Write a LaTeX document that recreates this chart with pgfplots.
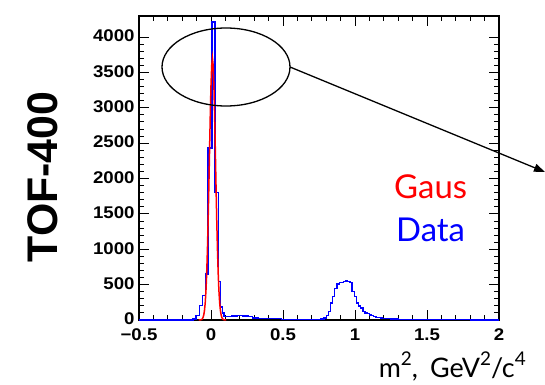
\documentclass[border=0pt]{standalone}
\usepackage{fontspec}
\setmainfont{Lato}
\newfontfamily\tickfont[FakeStretch=1.1]{Liberation Sans}
\newfontfamily\titlefont{Liberation Sans}
\usepackage{pgfplots}
\pgfplotsset{compat=1.18}
\usetikzlibrary{arrows.meta}
\newcommand{\sups}[1]{\raisebox{0.42em}{\fontsize{19}{19}\selectfont #1}}
\begin{document}
\begin{tikzpicture}[x=1bp,y=1bp]
\useasboundingbox (0,0) rectangle (545,384);
\begin{axis}[
  at={(139bp,64bp)}, anchor=south west, scale only axis,
  width=360bp, height=304bp,
  xmin=-0.5, xmax=2, ymin=0, ymax=4297,
  xtick={-0.5,0,0.5,1,1.5,2},
  xticklabels={−0.5,0,0.5,1,1.5,2},
  ytick={0,500,...,4000},
  minor x tick num=4, minor y tick num=4,
  tick align=inside,
  major tick length=10bp, minor tick length=5bp,
  tick style={black, line width=0.9bp},
  axis line style={line width=1.2bp},
  scaled y ticks=false,
  /pgf/number format/1000 sep={},
  /pgf/number format/assume math mode=true,
  ticklabel style={font=\tickfont\bfseries\fontsize{17}{17}\selectfont},
  xticklabel style={yshift=-5bp},
  yticklabel style={xshift=-1bp, yshift=1bp},
  clip=false,
]
\addplot[blue, line width=1.3bp, const plot mark left] coordinates {
(-0.5,0) (-0.125,15) (-0.104,65) (-0.082,205) (-0.06,350) (-0.04,650)
(-0.02,2430) (0.007,4212) (0.028,1800) (0.05,540) (0.065,185) (0.078,100)
(0.09,50) (0.11,50) (0.14,58) (0.18,62) (0.22,55) (0.26,45) (0.29,30)
(0.33,25) (0.4,22) (0.45,18) (0.49,12) (0.55,10) (0.6,8) (0.7,10)
(0.76,15) (0.785,30) (0.80,60) (0.815,118) (0.83,240) (0.845,330)
(0.86,450) (0.875,510) (0.89,530) (0.905,535) (0.92,545) (0.935,550)
(0.95,540) (0.965,530) (0.98,400) (0.995,330) (1.01,240) (1.025,200)
(1.04,170) (1.055,118) (1.07,100) (1.085,90) (1.1,70) (1.115,60)
(1.13,50) (1.145,40) (1.16,35) (1.175,30) (1.19,25) (1.22,20) (1.25,15)
(1.3,12) (1.4,8) (1.5,5) (1.6,3) (1.8,1) (2,1)
};
\addplot[red, line width=1.5bp] coordinates {
(-0.085,0) (-0.075,1.5) (-0.07,3.7) (-0.065,8.4) (-0.06,18) (-0.055,38)
(-0.05,75) (-0.045,140) (-0.04,248) (-0.035,414) (-0.03,655) (-0.025,983)
(-0.02,1398) (-0.015,1882) (-0.01,2400) (-0.005,2901) (0,3320) (0.005,3601)
(0.01,3700) (0.015,3601) (0.02,3320) (0.025,2901) (0.03,2400) (0.035,1882)
(0.04,1398) (0.045,983) (0.05,655) (0.055,414) (0.06,248) (0.065,140)
(0.07,75) (0.075,38) (0.08,18) (0.085,8.4) (0.09,3.7) (0.095,1.5) (0.105,0)
};
\end{axis}
\draw[line width=1.3bp] (226,317) ellipse [x radius=64, y radius=39];
\draw[line width=1.3bp, -{Triangle[length=11bp,width=8bp]}] (290,317) -- (545,212);
\node[red, anchor=base west, inner sep=0pt, font=\fontsize{33}{33}\selectfont] at (394,186) {Gaus};
\node[blue, anchor=base west, inner sep=0pt, font=\fontsize{33}{33}\selectfont] at (396,143) {Data};
\node[rotate=90, inner sep=0pt, font=\titlefont\bfseries\fontsize{43}{43}\selectfont] at (43,207) {TOF-400};
\node[anchor=base east, inner sep=0pt, font=\fontsize{27}{27}\selectfont] at (526,7) {m\sups{2},\hspace{0.45em}GeV\sups{2}/c\sups{4}};
\end{tikzpicture}
\end{document}
